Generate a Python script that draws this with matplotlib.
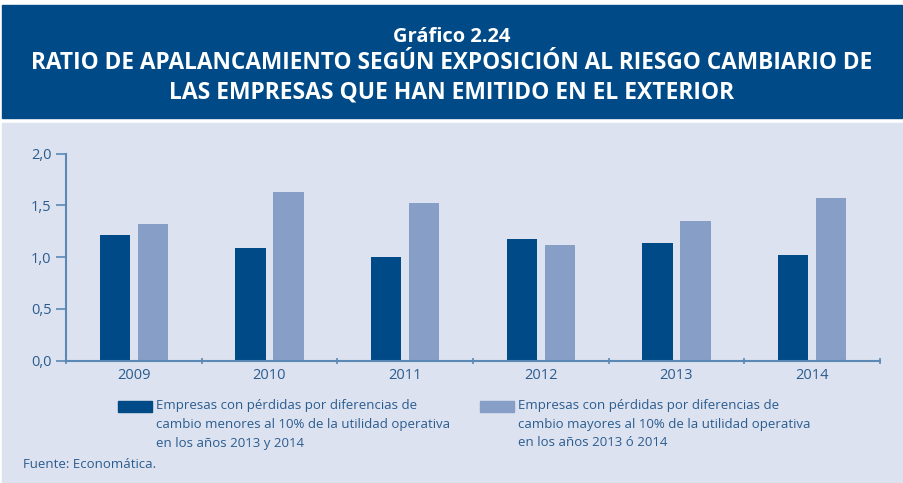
import numpy as np
import matplotlib
matplotlib.use("Agg")
import matplotlib.pyplot as plt
from matplotlib.patches import Rectangle

# data
years = ["2009", "2010", "2011", "2012", "2013", "2014"]
menores = [1.21, 1.09, 1.00, 1.18, 1.14, 1.02]
mayores = [1.32, 1.63, 1.52, 1.12, 1.35, 1.57]
yticks = [0.0, 0.5, 1.0, 1.5, 2.0]

title1 = "Gráfico 2.24"
title2 = "RATIO DE APALANCAMIENTO SEGÚN EXPOSICIÓN AL RIESGO CAMBIARIO DE"
title3 = "LAS EMPRESAS QUE HAN EMITIDO EN EL EXTERIOR"
leg1 = ["Empresas con pérdidas por diferencias de",
        "cambio menores al 10% de la utilidad operativa",
        "en los años 2013 y 2014"]
leg2 = ["Empresas con pérdidas por diferencias de",
        "cambio mayores al 10% de la utilidad operativa",
        "en los años 2013 ó 2014"]
source = "Fuente: Economática."

dark = "#004a87"
light = "#879fc7"
panel = "#dce2ef"
txt = "#2b5c8f"
axc = "#5b88b4"
fam = ["Open Sans", "DejaVu Sans"]

W, H = 904, 483
fig = plt.figure(figsize=(W / 100, H / 100), dpi=100)
fig.patch.set_facecolor("white")

# banner and panel
fig.add_artist(Rectangle((2 / W, 1 - 118 / H), 900 / W, 113 / H,
                         transform=fig.transFigure, color="#004b87", zorder=0))
fig.add_artist(Rectangle((2 / W, 0), 900 / W, 1 - 123 / H,
                         transform=fig.transFigure, color=panel, zorder=0))
fig.text(0.5, 1 - 37 / H, title1, color="white", fontsize=14.5, fontweight="bold",
         ha="center", va="center", family=fam)
fig.text(0.5, 1 - 63 / H, title2, color="white", fontsize=16.3, fontweight="bold",
         ha="center", va="center", family=fam)
fig.text(0.5, 1 - 92 / H, title3, color="white", fontsize=16.5, fontweight="bold",
         ha="center", va="center", family=fam)

ax = fig.add_axes([66 / W, (H - 360.7) / H, (880 - 66) / W, (360.7 - 153.7) / H])
ax.set_facecolor("none")
x = np.arange(len(years))
bw = 0.222
ax.bar(x - 0.14, menores, bw, color=dark, zorder=2)
ax.bar(x + 0.14, mayores, bw, color=light, zorder=2)

ax.set_xlim(-0.5, len(years) - 0.5)
ax.set_ylim(0, 2.0)
ax.set_yticks(yticks)
ax.set_yticklabels([f"{v:.1f}".replace(".", ",") for v in yticks])
ax.set_xticks(x)
ax.set_xticklabels(years)
ax.set_xticks(np.arange(-0.5, len(years)), minor=True)
ax.tick_params(axis="x", which="major", length=0, pad=5)
ax.tick_params(axis="x", which="minor", length=5, color=axc, width=1.2, direction="inout")
ax.tick_params(axis="y", length=7, color=axc, width=1.2)
for lab in ax.get_xticklabels() + ax.get_yticklabels():
    lab.set_color(txt)
    lab.set_fontsize(10.5)
    lab.set_family(fam)
for s in ["top", "right"]:
    ax.spines[s].set_visible(False)
for s in ["left", "bottom"]:
    ax.spines[s].set_color(axc)
    ax.spines[s].set_linewidth(1.5)

# legend drawn by hand
for bx, col, lines in [(118, dark, leg1), (480, light, leg2)]:
    fig.add_artist(Rectangle((bx / W, 1 - 412 / H), 34 / W, 11 / H,
                             transform=fig.transFigure, color=col))
    for i, line in enumerate(lines):
        fig.text((bx + 38) / W, 1 - (406 + 18.5 * i) / H, line, color=txt,
                 fontsize=9.5, va="center", ha="left", family=fam)

fig.text(23 / W, 1 - 465 / H, source, color=txt, fontsize=9.5, va="center",
         ha="left", family=fam)

fig.savefig("out.png", dpi=100)
